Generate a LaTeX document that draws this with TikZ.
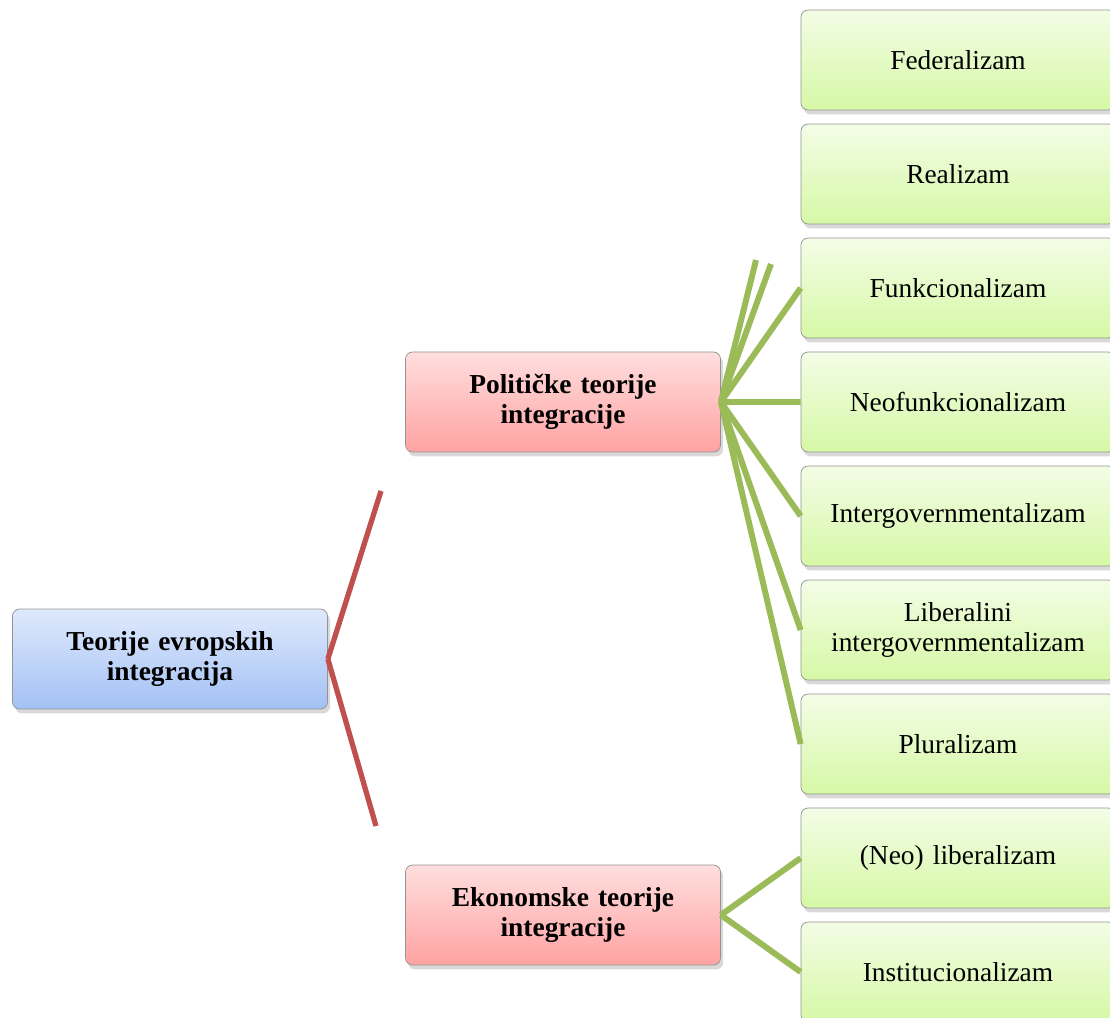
\documentclass[tikz,border=0pt]{standalone}
\usepackage{fontspec}
\setmainfont{Liberation Serif}
\usetikzlibrary{
	positioning,
	chains,
	shadows,
}
\definecolor{RootTop}{HTML}{DFE9FC}
\definecolor{RootBottom}{HTML}{A3C1F5}
\definecolor{MidTop}{HTML}{FFDEDE}
\definecolor{MidBottom}{HTML}{FFA2A2}
\definecolor{LeafTop}{HTML}{F3FDE6}
\definecolor{LeafBottom}{HTML}{D6F8A6}
\definecolor{TwigGreen}{HTML}{9BBB59}
\definecolor{TwigRed}{HTML}{C0504D}

\begin{document}
\begin{tikzpicture}[
		every node/.style={font=\fontsize{15.6}{17}\selectfont},
		node distance = 0.266cm,
		start chain = T going below,
		box/.style = {rectangle, rounded corners=4pt, draw=gray!85, thin,
			minimum width=6.3cm, minimum height=2cm,
			text width=5.9cm, align=center,
			drop shadow={opacity=0.3, shadow xshift=1.5pt, shadow yshift=-2.5pt}},
		rootbox/.style = {box, top color=RootTop, bottom color=RootBottom,
			font=\fontsize{15.6}{17}\selectfont\bfseries},
		midbox/.style = {box, top color=MidTop, bottom color=MidBottom,
			font=\fontsize{15.6}{17}\selectfont\bfseries},
		leaf/.style = {box, top color=LeafTop, bottom color=LeafBottom,
			minimum width=6.28cm, on chain},
		twig/.style = {line width=3.4pt, TwigGreen},
		branch/.style = {line width=3pt, TwigRed},
	]
	\useasboundingbox (0,0) rectangle (22.2,-20.36);
	% left and middle
	\node[rootbox] (R) at (3.40,-13.18) {Teorije evropskih\\ integracija};
	\node[midbox] (P) at (11.26,-8.04) {Političke teorije\\ integracije};
	\node[midbox] (E) at (11.26,-18.30) {Ekonomske teorije\\ integracije};
	% right column
	\node[leaf] at (19.16,-1.2) {Federalizam};
	\node[leaf] {Realizam};
	\node[leaf] {Funkcionalizam};
	\node[leaf] {Neofunkcionalizam};
	\node[leaf] {Intergovernmentalizam};
	\node[leaf] {Liberalini\\ intergovernmentalizam};
	\node[leaf] {Pluralizam};
	\node[leaf] {(Neo) liberalizam};
	\node[leaf] {Institucionalizam};
	% free ends
	\coordinate (b1) at (7.62,-9.82);
	\coordinate (b2) at (7.52,-16.52);
	\coordinate (f1) at (15.12,-5.20);
	\coordinate (f2) at (15.42,-5.28);
	% connectors
	\draw[branch] (R.east) -- (b1);
	\draw[branch] (R.east) -- (b2);
	\draw[twig] (P.east) -- (f1);
	\draw[twig] (P.east) -- (f2);
	\foreach \j in {3,...,7}
		\draw[twig] (P.east) -- (T-\j.west);
	\foreach \j in {8,9}
		\draw[twig] (E.east) -- (T-\j.west);
\end{tikzpicture}
\end{document}
